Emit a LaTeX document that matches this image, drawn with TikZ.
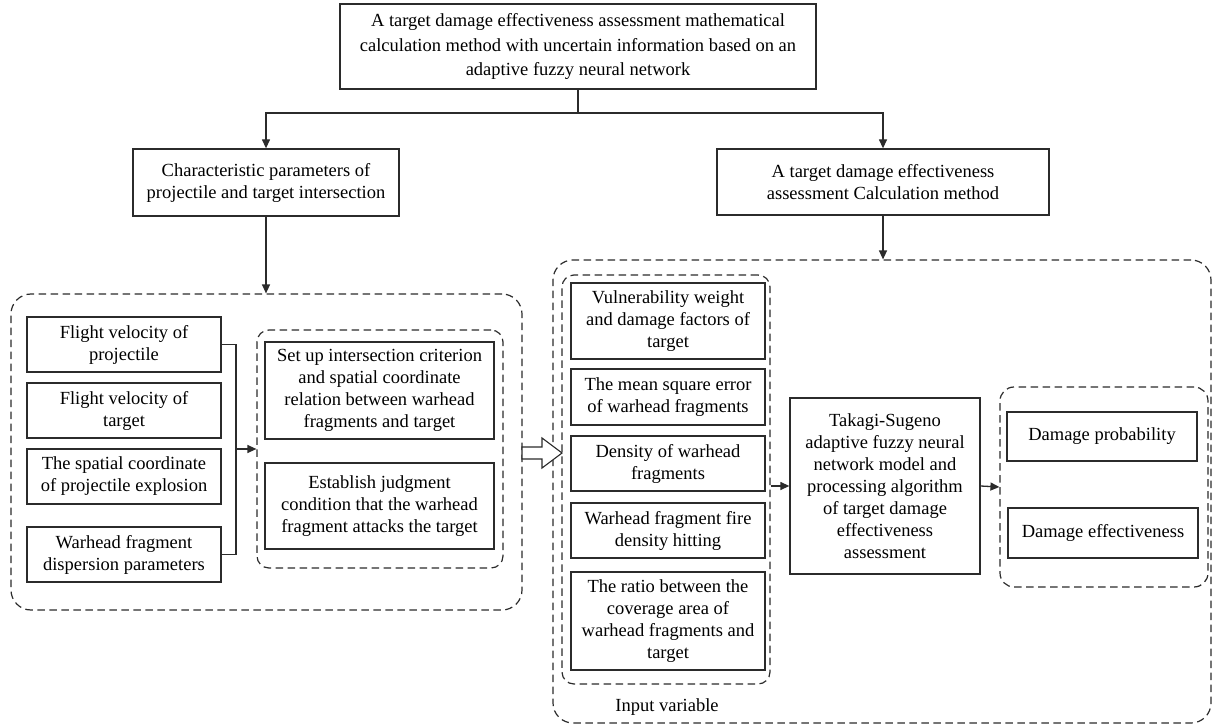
\documentclass[tikz,border=0pt]{standalone}
\usepackage{fontspec}
\setmainfont{Liberation Serif}
\usetikzlibrary{arrows.meta}
\definecolor{ln}{HTML}{2B2B2B}
\begin{document}
\begin{tikzpicture}[x=1pt,y=-1pt,
  font=\fontsize{18.5}{22}\selectfont,
  box/.style={draw=ln, line width=1.3pt, align=center, inner sep=0pt, text=black},
  dbox/.style={draw=ln, line width=1.2pt, dash pattern=on 7.5pt off 4.5pt, inner sep=0pt},
  arr/.style={draw=ln, line width=1.3pt, -{Triangle[length=9pt,width=8pt]}},
  ln/.style={draw=ln, line width=1.3pt}]
\useasboundingbox (0,0) rectangle (1213,727);

% dashed containers
\node[dbox, rounded corners=20pt, minimum width=511pt, minimum height=316pt] (LO) at (266.5,452) {};
\node[dbox, rounded corners=12pt, minimum width=246pt, minimum height=238pt] (LI) at (380,449) {};
\node[dbox, rounded corners=20pt, minimum width=658pt, minimum height=463pt] (RO) at (882,491.5) {};
\node[dbox, rounded corners=12pt, minimum width=208pt, minimum height=409pt] (IV) at (666,479.5) {};
\node[dbox, rounded corners=14pt, minimum width=208pt, minimum height=200pt] (OD) at (1104,487) {};

% top
\node[box, font=\fontsize{18.5}{24.5}\selectfont, minimum width=476pt, minimum height=85pt] (T) at (578,46.5) {A target damage effectiveness assessment mathematical\\calculation method with uncertain information based on an\\adaptive fuzzy neural network};
\node[box, minimum width=266pt, minimum height=67pt] (C) at (266,182.5) {Characteristic parameters of\\projectile and target intersection};
\node[box, minimum width=332pt, minimum height=66pt] (A) at (883,182) {A target damage effectiveness\\assessment Calculation method};

% left column
\node[box, minimum width=194pt, minimum height=55pt] (B1) at (124,344.5) {Flight velocity of\\projectile};
\node[box, minimum width=194pt, minimum height=55pt] (B2) at (124,410.5) {Flight velocity of\\target};
\node[box, minimum width=194pt, minimum height=55pt] (B3) at (124,476.5) {The spatial coordinate\\of projectile explosion};
\node[box, minimum width=194pt, minimum height=55pt] (B4) at (124,554.5) {Warhead fragment\\dispersion parameters};

\node[box, minimum width=229pt, minimum height=97pt] (S1) at (379.5,390.5) {Set up intersection criterion\\and spatial coordinate\\relation between warhead\\fragments and target};
\node[box, minimum width=229pt, minimum height=86pt] (S2) at (379.5,506) {Establish judgment\\condition that the warhead\\fragment attacks the target};

% input variables
\node[box, minimum width=194pt, minimum height=76pt] (V1) at (668,321) {Vulnerability weight\\and damage factors of\\target};
\node[box, minimum width=194pt, minimum height=56pt] (V2) at (668,397) {The mean square error\\of warhead fragments};
\node[box, minimum width=194pt, minimum height=55pt] (V3) at (668,463.5) {Density of warhead\\fragments};
\node[box, minimum width=194pt, minimum height=55pt] (V4) at (668,530.5) {Warhead fragment fire\\density hitting};
\node[box, minimum width=194pt, minimum height=98pt] (V5) at (668,621) {The ratio between the\\coverage area of\\warhead fragments and\\target};
\node[text=black] (IVL) at (667,707) {Input variable};

\node[box, minimum width=190pt, minimum height=176pt] (TS) at (885,486) {Takagi-Sugeno\\adaptive fuzzy neural\\network model and\\processing algorithm\\of target damage\\effectiveness\\assessment};

\node[box, minimum width=190pt, minimum height=49pt] (DP) at (1102,436.5) {Damage probability};
\node[box, minimum width=190pt, minimum height=50pt] (DE) at (1103,533) {Damage effectiveness};

% connectors
\coordinate (jn) at (578,113);
\draw[ln] (T.south) -- (jn);
\draw[arr] (jn) -| (C.north);
\draw[arr] (jn) -| (A.north);
\draw[arr] (C.south) -- (C.south |- LO.north);
\draw[arr] (A.south) -- (A.south |- RO.north);

\coordinate (br) at (236,449);
\draw[ln] (B1.east) -| (br);
\draw[ln] (B4.east) -| (br);
\draw[arr] (br) -- (LI.west);

\draw[arr] (IV.east |- TS.west) -- (TS.west);
\draw[arr] (TS.east) -- (OD.west);

% hollow arrow
\draw[draw=ln, line width=1.1pt, fill=white, line join=miter]
  (522,447) -- (542,447) -- (542,438) -- (562,453) -- (542,468) -- (542,459) -- (522,459) -- cycle;
\end{tikzpicture}
\end{document}
